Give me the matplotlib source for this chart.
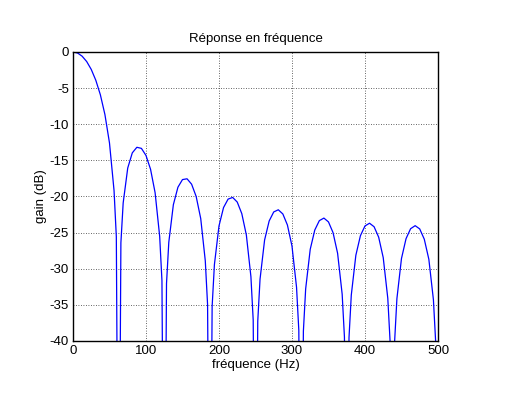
import numpy as np
import matplotlib
matplotlib.use("Agg")
import matplotlib.pyplot as plt

plt.rcParams['font.family'] = ['Liberation Sans', 'DejaVu Sans']
plt.rcParams['axes.unicode_minus'] = False

# frequency (Hz) and gain (dB), lobe by lobe
freq = [0, 6.25, 12.5, 18.75, 25, 31.25, 37.5, 43.75, 50, 56.25, 59.375, 62.5,
        65.625, 68.75, 75, 81.25, 87.5, 93.75, 100, 106.25, 112.5, 118.75, 121.875, 125,
        128.125, 131.25, 137.5, 143.75, 150, 156.25, 162.5, 168.75, 175, 181.25, 184.375, 187.5,
        190.625, 193.75, 200, 206.25, 212.5, 218.75, 225, 231.25, 237.5, 243.75, 246.875, 250,
        253.125, 256.25, 262.5, 268.75, 275, 281.25, 287.5, 293.75, 300, 306.25, 309.375, 312.5,
        315.625, 318.75, 325, 331.25, 337.5, 343.75, 350, 356.25, 362.5, 368.75, 371.875, 375,
        378.125, 381.25, 387.5, 393.75, 400, 406.25, 412.5, 418.75, 425, 431.25, 434.375, 437.5,
        440.625, 443.75, 450, 456.25, 462.5, 468.75, 475, 481.25, 487.5, 493.75, 496.875, 500]
gain = [0, -0.14, -0.58, -1.32, -2.41, -3.91, -5.92, -8.66, -12.59, -19.18, -25.56, -80,
        -26.41, -20.90, -16.06, -13.96, -13.19, -13.34, -14.32, -16.23, -19.48, -25.51, -31.64, -80,
        -32.05, -26.34, -21.14, -18.72, -17.66, -17.55, -18.30, -20.00, -23.06, -28.91, -34.96, -80,
        -35.21, -29.42, -24.08, -21.53, -20.36, -20.13, -20.77, -22.37, -25.33, -31.10, -37.09, -80,
        -37.26, -31.44, -26.02, -23.39, -22.14, -21.84, -22.42, -23.95, -26.86, -32.56, -38.53, -80,
        -38.64, -32.79, -27.31, -24.64, -23.34, -22.99, -23.52, -25.00, -27.86, -33.52, -39.46, -80,
        -39.53, -33.65, -28.14, -25.43, -24.08, -23.70, -24.19, -25.63, -28.46, -34.08, -40.00, -80,
        -40.04, -34.14, -28.59, -25.84, -24.46, -24.04, -24.49, -25.91, -28.69, -34.28, -40.19, -80]

xticks = [0, 100, 200, 300, 400, 500]
yticks = [0, -5, -10, -15, -20, -25, -30, -35, -40]

fig = plt.figure(figsize=(5.18, 3.99), dpi=100)
ax = fig.add_axes([0.1409, 0.1454, 0.7046, 0.7243])
ax.plot(freq, gain, color='#0000ff', lw=0.9)
ax.set_xlim(0, 500)
ax.set_ylim(-40, 0)
ax.set_xticks(xticks)
ax.set_yticks(yticks)
ax.grid(True, color='#333333', linestyle=(0, (1, 2)), lw=0.6)
ax.tick_params(direction='in', length=0, labelsize=9.5, pad=3)
for s in ax.spines.values():
    s.set_linewidth(1.0)
ax.set_title("Réponse en fréquence", fontsize=9.5, pad=7)
ax.set_xlabel("fréquence (Hz)", fontsize=9.5, labelpad=1)
ax.set_ylabel("gain (dB)", fontsize=9.5, labelpad=2)

fig.savefig("out.png", dpi=100)
